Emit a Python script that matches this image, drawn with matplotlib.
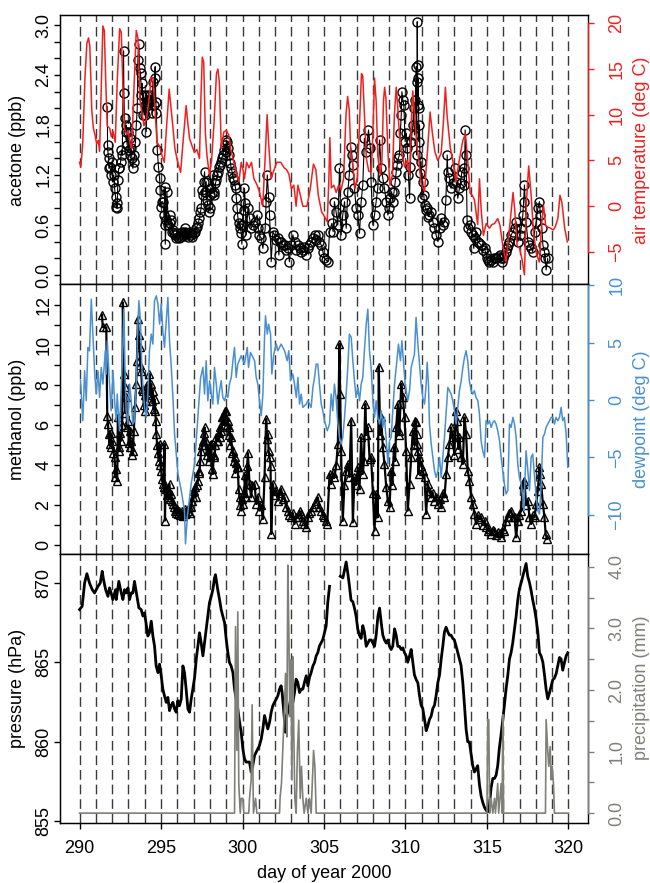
import numpy as np
import matplotlib
matplotlib.use("Agg")
import matplotlib.pyplot as plt
from matplotlib.ticker import FixedLocator, FormatStrFormatter

plt.rcParams["font.family"] = ["Liberation Sans", "DejaVu Sans"]
plt.rcParams["font.size"] = 13

# ---------------- data ----------------
# air temperature (deg C)
temp_day = [290.00, 290.08, 290.20, 290.33, 290.45, 290.55, 290.63, 290.75, 290.85, 290.95,
            291.05, 291.15, 291.23, 291.32, 291.43, 291.52, 291.60, 291.70, 291.85, 291.95,
            292.05, 292.19, 292.32, 292.46, 292.56, 292.65, 292.75, 292.90, 293.00, 293.10,
            293.20, 293.32, 293.48, 293.58, 293.70, 293.85, 293.95, 294.10, 294.25, 294.40,
            294.50, 294.60, 294.75, 294.90, 295.05, 295.20, 295.35, 295.50, 295.60, 295.72,
            295.85, 296.00, 296.20, 296.35, 296.54, 296.65, 296.75, 296.90, 297.05, 297.20,
            297.36, 297.45, 297.53, 297.62, 297.72, 297.82, 297.97, 298.10, 298.25, 298.40,
            298.49, 298.58, 298.70, 298.85, 299.00, 299.15, 299.30, 299.45, 299.60, 299.78,
            299.92, 300.05, 300.12, 300.25, 300.40, 300.55, 300.70, 300.90, 301.05, 301.24,
            301.38, 301.51, 301.60, 301.75, 301.90, 302.10, 302.35, 302.55, 302.70, 302.85,
            303.00, 303.15, 303.29, 303.40, 303.55, 303.70, 303.95, 304.15, 304.35, 304.50,
            304.65, 304.85, 305.05, 305.20, 305.30, 305.36, 305.45, 305.60, 305.75, 305.90,
            306.05, 306.20, 306.35, 306.45, 306.55, 306.65, 306.75, 306.90, 307.05, 307.20,
            307.30, 307.38, 307.48, 307.60, 307.75, 307.90, 308.00, 308.10, 308.20, 308.30,
            308.45, 308.55, 308.65, 308.72, 308.80, 308.92, 309.05, 309.20, 309.32, 309.43,
            309.52, 309.62, 309.75, 309.94, 310.10, 310.25, 310.35, 310.45, 310.55, 310.70,
            310.82, 310.96, 311.17, 311.35, 311.51, 311.65, 311.80, 311.98, 312.19, 312.32,
            312.45, 312.55, 312.74, 312.90, 313.10, 313.30, 313.52, 313.68, 313.82, 313.97,
            314.10, 314.23, 314.43, 314.54, 314.65, 314.78, 314.95, 315.15, 315.30, 315.46,
            315.66, 315.80, 315.97, 316.17, 316.40, 316.60, 316.70, 316.85, 317.00, 317.14,
            317.30, 317.42, 317.56, 317.70, 317.87, 318.07, 318.21, 318.37, 318.47, 318.60,
            318.75, 318.90, 319.07, 319.20, 319.35, 319.48, 319.60, 319.77, 319.93]
temp_val = [4.8, 4.3, 7.0, 14.0, 17.8, 18.4, 17.5, 10.5, 8.5, 7.8,
            6.8, 7.2, 6.0, 12.0, 19.7, 19.2, 14.0, 8.8, 8.5, 7.6,
            8.2, 7.0, 14.0, 19.4, 19.0, 13.6, 8.5, 7.8, 8.2, 6.8,
            6.3, 12.0, 19.2, 18.4, 11.7, 10.0, 8.8, 9.5, 11.5, 14.1,
            14.0, 11.5, 7.0, 6.6, 5.6, 4.8, 9.0, 12.8, 11.0, 8.8,
            6.3, 5.0, 3.7, 7.0, 11.0, 9.0, 7.4, 6.6, 5.9, 6.2,
            5.2, 12.0, 16.3, 15.7, 8.0, 5.5, 3.4, 5.0, 9.0, 14.5,
            15.0, 13.5, 6.3, 8.1, 8.3, 7.8, 6.0, 5.0, 3.7, 2.7,
            4.8, 3.8, 3.0, 4.8, 4.2, 4.8, 3.0, 2.3, 1.5, 0.0,
            5.0, 10.0, 7.0, 3.0, 3.8, 4.8, 4.8, 4.2, 4.0, 3.5,
            1.9, 2.3, 0.0, 2.3, 1.2, 0.0, 0.0, 1.8, 4.6, 4.0,
            1.2, -0.6, -1.2, -1.7, 3.0, 7.5, 2.0, 2.3, 1.5, 2.3,
            1.8, 3.0, 10.0, 12.0, 10.5, 5.6, 4.8, 1.9, 3.2, 10.0,
            14.5, 14.2, 10.0, 5.2, 3.8, 3.8, 8.0, 14.0, 11.5, 5.5,
            3.4, 4.8, 11.5, 13.0, 11.8, 6.0, 2.3, 3.4, 10.0, 13.0,
            11.0, 8.0, 6.0, 4.3, 5.0, 3.5, 9.0, 12.6, 10.0, 6.5,
            5.0, 2.5, 1.6, 6.0, 10.3, 8.0, 6.0, 5.0, 5.8, 9.0,
            13.0, 10.0, 6.5, 5.0, 2.7, 5.0, 7.2, 7.9, 5.0, 1.4,
            1.2, 0.7, -2.0, 3.0, -0.5, -3.2, -1.9, -2.4, -2.0, -1.9,
            -1.35, -2.1, -4.3, -6.1, -2.1, 1.5, -0.3, -4.3, -4.6, -5.7,
            -7.5, 0.4, 4.4, 1.5, -3.2, -5.4, -6.1, -1.7, 0.1, -2.1,
            -2.3, -2.4, -2.6, -2.2, -1.35, 1.2, 0.4, -2.4, -3.9]

# acetone (ppb)
acet_day = [291.70, 291.72, 291.74, 291.78, 291.80, 291.87, 291.94, 292.00, 292.05, 292.10,
            292.15, 292.21, 292.25, 292.28, 292.31, 292.35, 292.40, 292.45, 292.52, 292.56,
            292.62, 292.70, 292.72, 292.76, 292.82, 292.86, 292.92, 292.97, 293.02, 293.07,
            293.12, 293.17, 293.21, 293.27, 293.32, 293.37, 293.43, 293.48, 293.54, 293.58,
            293.64, 293.68, 293.74, 293.80, 293.85, 293.89, 293.94, 293.99, 294.04, 294.09,
            294.14, 294.19, 294.24, 294.29, 294.35, 294.40, 294.45, 294.50, 294.55, 294.60,
            294.64, 294.68, 294.71, 294.77, 294.84, 294.91, 294.94, 294.97, 295.04, 295.11,
            295.18, 295.22, 295.24, 295.26, 295.32, 295.36, 295.45, 295.52, 295.58, 295.63,
            295.68, 295.73, 295.78, 295.83, 295.90, 295.96, 296.02, 296.08, 296.14, 296.20,
            296.26, 296.32, 296.38, 296.44, 296.50, 296.56, 296.62, 296.68, 296.75, 296.81,
            296.87, 296.93, 297.00, 297.06, 297.13, 297.20, 297.28, 297.36, 297.42, 297.46,
            297.52, 297.57, 297.62, 297.67, 297.72, 297.77, 297.82, 297.87, 297.92, 297.98,
            298.03, 298.08, 298.13, 298.18, 298.23, 298.28, 298.34, 298.39, 298.44, 298.49,
            298.55, 298.60, 298.65, 298.72, 298.79, 298.85, 298.90, 298.96, 299.01, 299.06,
            299.12, 299.20, 299.26, 299.31, 299.38, 299.42, 299.47, 299.52, 299.57, 299.62,
            299.66, 299.71, 299.76, 299.82, 299.88, 299.92, 299.96, 300.02, 300.07, 300.12,
            300.17, 300.23, 300.33, 300.43, 300.53, 300.64, 300.74, 300.90, 300.97, 301.04,
            301.15, 301.25, 301.39, 301.45, 301.52, 301.60, 301.66, 301.76, 301.86, 301.96,
            302.07, 302.17, 302.23, 302.30, 302.37, 302.47, 302.58, 302.68, 302.78, 302.88,
            302.98, 303.09, 303.20, 303.30, 303.40, 303.50, 303.60, 303.70, 303.80, 303.91,
            304.01, 304.11, 304.21, 304.32, 304.42, 304.52, 304.62, 304.72, 304.83, 304.93,
            305.03, 305.13, 305.24, 305.34, 305.48, 305.56, 305.64, 305.74, 305.85, 305.95,
            306.05, 306.15, 306.26, 306.36, 306.46, 306.55, 306.63, 306.71, 306.77, 306.87,
            306.97, 307.08, 307.18, 307.28, 307.38, 307.48, 307.59, 307.73, 307.85, 307.89,
            308.00, 308.10, 308.20, 308.30, 308.41, 308.51, 308.61, 308.71, 308.82, 308.92,
            309.00, 309.08, 309.15, 309.22, 309.30, 309.37, 309.43, 309.49, 309.56, 309.63,
            309.68, 309.74, 309.78, 309.84, 309.90, 309.98, 310.05, 310.11, 310.18, 310.25,
            310.30, 310.35, 310.45, 310.50, 310.55, 310.60, 310.65, 310.69, 310.71, 310.72,
            310.74, 310.76, 310.78, 310.80, 310.83, 310.86, 310.90, 310.96, 311.00, 311.06,
            311.12, 311.17, 311.25, 311.33, 311.40, 311.47, 311.58, 311.68, 311.78, 311.88,
            311.99, 312.09, 312.19, 312.29, 312.39, 312.48, 312.56, 312.60, 312.70, 312.80,
            312.90, 313.01, 313.11, 313.21, 313.31, 313.38, 313.46, 313.58, 313.62, 313.66,
            313.72, 313.78, 313.86, 313.94, 314.03, 314.13, 314.19, 314.26, 314.33, 314.44,
            314.54, 314.64, 314.75, 314.85, 314.93, 315.01, 315.08, 315.15, 315.25, 315.36,
            315.46, 315.56, 315.66, 315.77, 315.84, 315.91, 316.00, 316.07, 316.15, 316.24,
            316.31, 316.38, 316.48, 316.59, 316.69, 316.79, 316.89, 317.00, 317.10, 317.20,
            317.25, 317.30, 317.40, 317.51, 317.61, 317.71, 317.81, 317.92, 318.02, 318.12,
            318.22, 318.28, 318.37, 318.43, 318.53, 318.58, 318.63, 318.73]
acet_val = [2.02, 1.56, 1.48, 1.40, 1.28, 1.30, 1.20, 1.36, 1.12, 1.20,
            1.04, 0.94, 0.82, 0.86, 0.80, 1.14, 1.28, 1.28, 1.36, 1.50,
            1.44, 2.69, 2.18, 1.88, 1.72, 1.80, 1.56, 1.72, 1.50, 1.64,
            1.44, 1.52, 1.40, 1.28, 1.36, 1.44, 1.60, 1.80, 2.00, 2.58,
            2.77, 2.48, 2.42, 2.16, 2.30, 1.92, 2.16, 1.92, 2.04, 1.72,
            2.16, 2.04, 2.10, 2.08, 2.16, 2.10, 1.94, 2.32, 2.04, 2.36,
            2.50, 2.08, 1.94, 1.50, 1.30, 1.16, 1.02, 0.82, 0.88, 0.88,
            0.72, 0.60, 1.06, 0.37, 0.66, 1.00, 0.60, 0.72, 0.62, 0.66,
            0.52, 0.54, 0.50, 0.48, 0.45, 0.50, 0.46, 0.44, 0.48, 0.46,
            0.52, 0.48, 0.50, 0.56, 0.52, 0.48, 0.50, 0.46, 0.52, 0.48,
            0.50, 0.46, 0.50, 0.52, 0.56, 0.58, 0.62, 0.68, 0.76, 0.80,
            1.02, 0.96, 1.12, 1.24, 1.00, 1.12, 0.90, 0.84, 0.76, 0.80,
            0.96, 1.04, 0.98, 1.20, 1.00, 0.96, 1.10, 1.14, 1.20, 1.24,
            1.30, 1.32, 1.36, 1.40, 1.44, 1.50, 1.56, 1.48, 1.62, 1.60,
            1.52, 1.44, 1.34, 1.28, 1.22, 1.16, 1.14, 1.08, 1.05, 0.92,
            0.80, 0.70, 0.62, 0.56, 0.60, 0.50, 0.37, 0.60, 0.78, 1.04,
            0.86, 0.48, 0.80, 0.68, 0.56, 0.60, 0.64, 0.72, 0.56, 0.48,
            0.44, 0.32, 0.56, 0.88, 1.20, 0.94, 0.72, 0.16, 0.52, 0.48,
            0.42, 0.44, 0.24, 0.40, 0.40, 0.36, 0.36, 0.30, 0.32, 0.16,
            0.36, 0.48, 0.40, 0.30, 0.36, 0.32, 0.28, 0.30, 0.34, 0.24,
            0.32, 0.36, 0.40, 0.44, 0.48, 0.42, 0.48, 0.40, 0.36, 0.28,
            0.20, 0.18, 0.16, 0.52, 0.62, 0.52, 0.88, 0.76, 0.60, 1.28,
            0.48, 0.72, 0.88, 0.56, 1.00, 1.20, 1.54, 1.44, 1.32, 1.04,
            0.80, 0.72, 0.50, 0.88, 1.08, 1.64, 1.48, 1.74, 1.52, 1.12,
            0.60, 0.72, 0.88, 1.04, 1.62, 1.28, 1.16, 1.04, 0.88, 0.72,
            0.80, 0.92, 1.00, 0.88, 1.00, 1.12, 1.24, 1.32, 1.40, 1.44,
            1.70, 1.92, 2.20, 2.10, 2.04, 1.60, 1.70, 1.52, 1.20, 0.92,
            1.30, 1.60, 1.80, 2.00, 1.68, 2.10, 2.50, 1.44, 2.32, 3.04,
            2.52, 2.04, 2.36, 2.00, 1.60, 1.80, 1.22, 1.36, 0.92, 1.12,
            0.96, 0.84, 0.78, 0.80, 0.70, 0.72, 0.76, 0.64, 0.56, 0.48,
            0.40, 0.56, 0.68, 0.60, 0.64, 0.90, 1.44, 1.24, 1.16, 1.04,
            1.10, 1.28, 1.12, 0.92, 1.04, 1.10, 1.24, 1.28, 1.08, 1.74,
            1.44, 0.66, 0.56, 0.60, 0.52, 0.48, 0.32, 0.44, 0.52, 0.40,
            0.38, 0.36, 0.30, 0.32, 0.26, 0.20, 0.18, 0.16, 0.18, 0.16,
            0.20, 0.20, 0.22, 0.24, 0.20, 0.16, 0.20, 0.24, 0.28, 0.32,
            0.36, 0.40, 0.48, 0.52, 0.56, 0.64, 0.40, 0.48, 0.56, 0.72,
            0.88, 1.08, 0.64, 0.40, 0.36, 0.32, 0.28, 0.52, 0.64, 0.80,
            0.88, 0.72, 0.56, 0.36, 0.28, 0.20, 0.06, 0.20]

# methanol (ppb)
meth_day = [291.38, 291.42, 291.64, 291.70, 291.74, 291.78, 291.84, 291.90, 291.95, 292.02,
            292.08, 292.15, 292.20, 292.25, 292.31, 292.35, 292.40, 292.45, 292.50, 292.56,
            292.62, 292.66, 292.72, 292.76, 292.80, 292.86, 292.92, 292.97, 293.02, 293.07,
            293.12, 293.17, 293.22, 293.27, 293.33, 293.40, 293.48, 293.52, 293.58, 293.63,
            293.68, 293.73, 293.78, 293.84, 293.89, 293.94, 293.99, 294.04, 294.09, 294.15,
            294.20, 294.29, 294.34, 294.40, 294.45, 294.50, 294.55, 294.60, 294.64, 294.68,
            294.71, 294.76, 294.81, 294.86, 294.91, 294.96, 295.01, 295.06, 295.11, 295.16,
            295.21, 295.24, 295.28, 295.32, 295.37, 295.42, 295.47, 295.52, 295.57, 295.63,
            295.68, 295.73, 295.78, 295.83, 295.90, 295.95, 296.04, 296.10, 296.15, 296.24,
            296.30, 296.35, 296.44, 296.50, 296.55, 296.65, 296.70, 296.75, 296.85, 296.90,
            296.95, 297.00, 297.06, 297.12, 297.18, 297.26, 297.31, 297.36, 297.41, 297.46,
            297.52, 297.57, 297.62, 297.67, 297.72, 297.77, 297.82, 297.87, 297.92, 297.98,
            298.03, 298.08, 298.13, 298.18, 298.23, 298.28, 298.34, 298.39, 298.44, 298.49,
            298.55, 298.60, 298.64, 298.69, 298.74, 298.79, 298.85, 298.90, 298.95, 299.00,
            299.05, 299.10, 299.15, 299.20, 299.25, 299.31, 299.36, 299.41, 299.46, 299.51,
            299.56, 299.62, 299.66, 299.71, 299.76, 299.82, 299.87, 299.92, 299.97, 300.02,
            300.10, 300.15, 300.23, 300.29, 300.33, 300.43, 300.53, 300.60, 300.74, 300.84,
            300.95, 301.04, 301.15, 301.25, 301.35, 301.45, 301.52, 301.56, 301.60, 301.66,
            301.72, 301.76, 301.86, 301.96, 302.07, 302.17, 302.27, 302.37, 302.47, 302.58,
            302.68, 302.78, 302.88, 302.99, 303.09, 303.19, 303.30, 303.40, 303.50, 303.60,
            303.70, 303.80, 303.91, 304.01, 304.11, 304.21, 304.32, 304.42, 304.52, 304.62,
            304.72, 304.83, 304.93, 305.03, 305.12, 305.20, 305.34, 305.44, 305.54, 305.64,
            305.75, 305.85, 305.95, 305.99, 306.05, 306.15, 306.25, 306.36, 306.46, 306.56,
            306.67, 306.77, 306.87, 306.97, 307.08, 307.18, 307.28, 307.38, 307.45, 307.53,
            307.60, 307.69, 307.80, 307.89, 308.00, 308.10, 308.20, 308.30, 308.36, 308.45,
            308.51, 308.61, 308.71, 308.82, 308.92, 309.02, 309.12, 309.20, 309.29, 309.36,
            309.43, 309.53, 309.58, 309.63, 309.74, 309.84, 309.94, 310.04, 310.14, 310.25,
            310.35, 310.45, 310.55, 310.60, 310.65, 310.68, 310.72, 310.76, 310.80, 310.86,
            310.96, 311.06, 311.17, 311.27, 311.37, 311.47, 311.58, 311.68, 311.78, 311.88,
            311.99, 312.09, 312.19, 312.29, 312.39, 312.50, 312.60, 312.70, 312.80, 312.90,
            313.00, 313.05, 313.11, 313.17, 313.24, 313.31, 313.42, 313.52, 313.62, 313.72,
            313.82, 313.92, 314.03, 314.13, 314.23, 314.33, 314.43, 314.54, 314.64, 314.75,
            314.85, 314.95, 315.05, 315.15, 315.26, 315.36, 315.46, 315.56, 315.66, 315.77,
            315.87, 315.97, 316.07, 316.17, 316.28, 316.38, 316.48, 316.59, 316.69, 316.79,
            316.89, 316.99, 317.10, 317.20, 317.30, 317.40, 317.51, 317.61, 317.71, 317.81,
            317.92, 318.02, 318.12, 318.22, 318.28, 318.33, 318.43, 318.53, 318.60, 318.69]
meth_val = [11.5, 10.9, 10.88, 6.47, 6.05, 5.55, 5.05, 5.6, 4.9, 5.2,
            4.6, 4.38, 3.38, 3.8, 3.22, 6.38, 4.9, 4.72, 5.6, 5.22,
            6.0, 12.13, 8.55, 7.88, 6.6, 7.38, 5.9, 6.22, 5.1, 5.72,
            4.9, 5.22, 4.5, 4.72, 5.72, 6.9, 8.05, 9.2, 11.3, 10.5,
            9.88, 9.0, 8.72, 7.8, 7.72, 7.0, 6.72, 7.5, 7.22, 8.0,
            7.5, 8.55, 7.6, 8.05, 7.2, 7.72, 6.8, 7.3, 6.72, 6.2,
            5.55, 5.0, 4.6, 4.2, 5.05, 4.0, 3.72, 3.3, 3.05, 2.9,
            5.05, 1.22, 2.8, 2.88, 2.5, 2.38, 2.7, 3.05, 2.3, 2.55,
            2.2, 2.05, 1.9, 1.72, 1.6, 1.8, 1.55, 1.7, 1.5, 1.55,
            1.7, 1.45, 1.55, 1.8, 1.6, 1.72, 1.9, 1.6, 1.88, 2.2,
            2.38, 2.7, 2.88, 2.4, 3.0, 3.22, 3.6, 3.72, 4.2, 4.72,
            5.0, 5.22, 5.6, 5.88, 5.0, 5.22, 4.5, 4.72, 4.2, 4.38,
            5.0, 5.05, 3.8, 3.55, 4.5, 4.38, 5.0, 5.4, 5.2, 5.22,
            5.6, 5.9, 5.4, 5.72, 6.4, 6.38, 6.0, 6.72, 6.4, 6.7,
            6.0, 6.22, 5.5, 5.88, 5.0, 5.38, 4.6, 4.72, 4.2, 4.38,
            3.6, 4.1, 3.9, 3.88, 2.8, 2.38, 2.0, 1.72, 2.3, 2.05,
            2.6, 3.5, 2.38, 3.97, 4.6, 3.05, 2.38, 3.0, 3.05, 2.05,
            2.4, 1.72, 2.0, 1.3, 3.38, 6.3, 5.3, 5.55, 4.72, 4.38,
            3.97, 0.55, 3.05, 2.5, 2.72, 2.22, 2.6, 2.8, 2.3, 2.38,
            1.9, 1.72, 1.5, 1.38, 1.6, 1.05, 1.4, 1.38, 1.7, 1.55,
            1.2, 1.05, 0.88, 1.38, 1.6, 1.72, 1.9, 2.05, 2.2, 2.38,
            1.9, 1.72, 1.5, 1.38, 1.2, 1.05, 3.55, 3.05, 3.6, 3.38,
            4.0, 5.05, 10.05, 7.55, 4.72, 1.2, 3.0, 3.72, 4.05, 3.4,
            6.22, 1.13, 3.38, 3.0, 3.88, 2.8, 5.38, 3.55, 4.2, 7.05,
            5.5, 5.88, 4.3, 4.38, 2.6, 0.72, 2.55, 1.38, 8.92, 5.5,
            6.38, 4.88, 4.05, 2.88, 2.2, 1.88, 3.72, 3.0, 4.88, 4.2,
            5.88, 7.05, 5.5, 5.72, 8.05, 7.38, 6.38, 4.72, 1.72, 3.05,
            4.38, 5.72, 5.0, 6.22, 6.13, 5.55, 5.05, 4.72, 3.55, 4.38,
            3.97, 3.72, 3.38, 1.55, 3.05, 2.72, 2.38, 2.6, 2.22, 2.4,
            2.05, 2.3, 1.88, 2.6, 2.38, 3.55, 4.38, 5.05, 5.88, 5.38,
            4.5, 5.72, 6.72, 6.22, 4.8, 5.38, 4.38, 4.05, 6.38, 5.55,
            3.72, 3.22, 2.38, 2.05, 1.55, 1.05, 1.5, 1.3, 1.38, 1.0,
            1.22, 0.9, 0.72, 0.8, 0.55, 0.75, 0.72, 0.5, 0.63, 0.6,
            0.38, 0.8, 0.72, 1.2, 1.38, 1.6, 1.72, 1.4, 1.38, 0.38,
            1.22, 1.5, 1.72, 3.05, 3.22, 2.0, 2.22, 1.38, 1.05, 1.5,
            1.38, 2.05, 2.72, 3.88, 3.55, 3.05, 2.05, 1.38, 0.55, 0.30]

# dewpoint (deg C)
dew_day = [290.06, 290.20, 290.31, 290.41, 290.51, 290.61, 290.72, 290.82, 290.92, 291.02,
           291.13, 291.23, 291.33, 291.43, 291.58, 291.64, 291.70, 291.84, 291.94, 292.05,
           292.15, 292.25, 292.31, 292.45, 292.56, 292.66, 292.72, 292.80, 292.86, 292.97,
           293.07, 293.17, 293.27, 293.37, 293.48, 293.58, 293.64, 293.74, 293.82, 293.89,
           293.99, 294.09, 294.19, 294.29, 294.40, 294.50, 294.60, 294.71, 294.81, 294.91,
           295.01, 295.11, 295.21, 295.32, 295.42, 295.52, 295.63, 295.73, 295.83, 296.04,
           296.24, 296.44, 296.50, 296.61, 296.75, 296.85, 297.06, 297.26, 297.43, 297.57,
           297.67, 297.77, 297.87, 297.98, 298.08, 298.18, 298.28, 298.39, 298.49, 298.59,
           298.69, 298.79, 298.90, 299.00, 299.10, 299.20, 299.31, 299.41, 299.51, 299.61,
           299.71, 299.92, 300.12, 300.29, 300.37, 300.49, 300.64, 300.74, 300.84, 300.94,
           301.04, 301.15, 301.25, 301.35, 301.41, 301.52, 301.60, 301.72, 301.80, 301.92,
           302.07, 302.17, 302.37, 302.58, 302.74, 302.84, 302.95, 303.09, 303.19, 303.30,
           303.40, 303.50, 303.60, 303.70, 303.91, 304.01, 304.21, 304.32, 304.42, 304.52,
           304.62, 304.72, 304.83, 304.93, 305.03, 305.20, 305.34, 305.44, 305.54, 305.64,
           305.74, 305.85, 305.95, 306.05, 306.15, 306.26, 306.36, 306.46, 306.56, 306.67,
           306.77, 306.87, 306.97, 307.08, 307.18, 307.28, 307.38, 307.48, 307.59, 307.69,
           307.79, 307.89, 308.00, 308.10, 308.20, 308.30, 308.41, 308.51, 308.61, 308.71,
           308.82, 308.92, 309.02, 309.12, 309.22, 309.33, 309.43, 309.57, 309.69, 309.78,
           309.90, 309.98, 310.14, 310.25, 310.35, 310.45, 310.55, 310.65, 310.76, 310.86,
           310.96, 311.06, 311.17, 311.27, 311.33, 311.41, 311.47, 311.58, 311.68, 311.78,
           311.88, 311.99, 312.09, 312.19, 312.29, 312.39, 312.50, 312.60, 312.70, 312.80,
           312.90, 313.01, 313.11, 313.21, 313.31, 313.42, 313.52, 313.62, 313.72, 313.82,
           313.92, 314.03, 314.13, 314.23, 314.33, 314.44, 314.54, 314.64, 314.74, 314.85,
           314.95, 315.05, 315.15, 315.26, 315.36, 315.46, 315.56, 315.66, 315.77, 315.87,
           315.97, 316.07, 316.17, 316.28, 316.38, 316.48, 316.59, 316.69, 316.79, 316.89,
           316.99, 317.10, 317.20, 317.26, 317.40, 317.51, 317.61, 317.71, 317.81, 317.92,
           318.02, 318.12, 318.22, 318.33, 318.43, 318.53, 318.63, 318.73, 318.84, 318.94,
           319.04, 319.14, 319.24, 319.35, 319.45, 319.55, 319.65, 319.75, 319.86, 319.96]
dew_val = [1.68, -1.80, 2.55, -0.06, 4.58, 4.29, 8.78, 5.74, 2.55, 0.52,
           2.55, 0.23, 2.84, 1.39, 4.29, 2.26, 5.16, 1.39, -0.93, 2.55,
           -0.06, -1.80, 0.52, -2.67, 1.10, 4.87, 7.91, 1.68, -0.93, -2.09,
           1.39, -0.06, -2.09, -1.80, 1.39, 6.61, 8.64, 6.90, 2.84, 1.10,
           -0.64, -1.51, 0.52, 4.29, 5.74, 4.87, 8.64, 9.07, 8.35, 6.61,
           8.35, 6.03, 4.58, 6.90, 8.93, 5.16, 2.84, 0.23, -2.96, -6.44,
           -7.88, -9.62, -12.52, -10.20, -8.46, -7.30, -5.56, -1.51, 1.97, 2.84,
           0.52, 3.42, -0.06, 1.68, 0.52, -0.35, 2.84, 1.39, -0.35, 0.81,
           1.68, 0.23, -0.06, 0.52, 0.23, 1.39, 1.97, 3.42, 4.58, 1.97,
           3.13, 3.86, 3.13, 4.58, 2.84, 4.14, 3.71, 3.42, 1.97, 1.39,
           -0.06, -1.36, 0.52, 5.45, 7.33, 5.74, 6.61, 5.74, 2.26, 4.00,
           4.87, 4.29, 4.87, 4.29, 3.42, 4.29, 1.68, 2.26, 1.39, 0.23,
           1.97, -0.35, 0.52, -0.64, -0.35, -0.06, -0.64, 1.10, 1.97, 3.13,
           3.13, 1.39, -0.35, -0.93, -1.80, -2.67, -2.09, 0.52, -0.93, 1.39,
           0.23, -2.09, -3.25, -3.83, -3.25, -1.51, 0.52, 2.84, 5.74, 5.45,
           3.42, 1.68, 0.23, 1.10, -0.06, 1.39, 1.97, 4.29, 6.61, 7.91,
           4.29, 2.84, -0.06, -1.51, -0.06, -1.51, -2.09, -0.93, -2.38, -1.51,
           -3.54, -5.56, -3.54, -3.25, -0.93, 1.39, 2.84, 4.87, 3.42, 5.16,
           2.84, 1.39, -0.06, 0.81, 2.84, 3.42, 4.00, 7.20, 4.87, 3.13,
           1.39, 0.23, -0.35, 1.39, 3.28, 1.39, -2.09, -3.83, -4.99, -6.15,
           -6.73, -6.15, -4.99, -6.73, -4.99, -3.25, -0.93, 1.10, 0.81, 0.52,
           -0.06, -0.93, -2.09, -0.64, 0.81, 1.68, 2.84, 3.71, 4.29, 3.42,
           1.68, 0.81, 0.52, 0.81, 0.23, -0.06, -1.22, -3.54, -4.41, -4.99,
           -1.80, -2.09, -1.80, -2.38, -1.95, -1.80, -2.09, -2.67, -3.54, -4.99,
           -6.15, -7.30, -8.17, -7.88, -2.09, -2.38, -1.51, -2.09, -3.25, -5.56,
           -6.73, -7.30, -8.46, -9.62, -4.41, -6.15, -7.88, -4.99, -4.70, -6.73,
           -8.46, -9.62, -9.91, -7.30, -3.25, -2.96, -2.38, -2.09, -1.80, -1.51,
           -1.51, -2.09, -1.51, -1.80, -1.51, -0.64, -1.80, -1.51, -2.96, -5.86]

# pressure (hPa); nan marks the gap in the record
pres_day = [290.00, 290.16, 290.31, 290.45, 290.61, 290.78, 290.92, 291.13, 291.27, 291.39,
            291.47, 291.60, 291.74, 291.84, 291.94, 292.04, 292.21, 292.25, 292.41, 292.56,
            292.66, 292.76, 292.86, 292.97, 293.07, 293.17, 293.27, 293.37, 293.52, 293.64,
            293.78, 293.89, 293.99, 294.09, 294.19, 294.29, 294.40, 294.50, 294.60, 294.70,
            294.81, 294.91, 295.01, 295.11, 295.21, 295.32, 295.42, 295.52, 295.62, 295.73,
            295.83, 295.93, 296.03, 296.13, 296.24, 296.34, 296.44, 296.54, 296.65, 296.75,
            296.85, 296.95, 297.06, 297.16, 297.26, 297.36, 297.46, 297.57, 297.67, 297.77,
            297.87, 297.97, 298.08, 298.18, 298.28, 298.34, 298.48, 298.59, 298.69, 298.79,
            298.90, 299.00, 299.10, 299.20, 299.30, 299.41, 299.51, 299.61, 299.71, 299.82,
            299.92, 300.02, 300.12, 300.22, 300.33, 300.43, 300.53, 300.63, 300.74, 300.84,
            300.94, 301.04, 301.15, 301.25, 301.35, 301.45, 301.55, 301.66, 301.76, 301.86,
            301.96, 302.07, 302.17, 302.27, 302.37, 302.43, 302.52, 302.64, 302.72, 302.88,
            302.99, 303.09, 303.19, 303.29, 303.39, 303.50, 303.60, 303.70, 303.80, 303.91,
            304.01, 304.11, 304.21, 304.32, 304.42, 304.52, 304.62, 304.72, 304.83, 304.93,
            305.03, 305.13, 305.23, 305.34, 305.60,
            306.00, 306.16, 306.26, 306.36, 306.46, 306.56, 306.66, 306.77, 306.87, 306.97,
            307.07, 307.17, 307.28, 307.38, 307.48, 307.59, 307.69, 307.79, 307.90, 308.00,
            308.10, 308.20, 308.31, 308.41, 308.51, 308.61, 308.71, 308.82, 308.92, 309.02,
            309.12, 309.22, 309.33, 309.43, 309.53, 309.63, 309.74, 309.84, 309.94, 310.04,
            310.14, 310.25, 310.35, 310.45, 310.55, 310.66, 310.76, 310.86, 310.96, 311.06,
            311.17, 311.27, 311.37, 311.47, 311.57, 311.68, 311.78, 311.88, 311.98, 312.09,
            312.19, 312.29, 312.39, 312.49, 312.60, 312.70, 312.80, 312.90, 313.00, 313.11,
            313.21, 313.31, 313.41, 313.52, 313.62, 313.72, 313.82, 313.92, 314.03, 314.13,
            314.23, 314.33, 314.43, 314.54, 314.64, 314.74, 314.84, 314.95, 315.05, 315.15,
            315.25, 315.36, 315.46, 315.56, 315.66, 315.76, 315.86, 315.97, 316.07, 316.17,
            316.28, 316.38, 316.48, 316.58, 316.69, 316.79, 316.89, 316.99, 317.10, 317.20,
            317.30, 317.40, 317.50, 317.61, 317.71, 317.81, 317.91, 318.02, 318.12, 318.22,
            318.32, 318.43, 318.53, 318.63, 318.73, 318.84, 318.94, 319.04, 319.14, 319.25,
            319.35, 319.45, 319.55, 319.65, 319.76, 319.86, 319.96]
pres_val = [868.31, 868.52, 869.98, 870.56, 869.98, 869.56, 869.35, 869.77, 869.98, 870.71,
            870.19, 869.56, 869.14, 869.67, 869.35, 868.94, 869.56, 868.94, 870.08, 869.35,
            868.94, 869.56, 869.35, 869.67, 868.94, 869.35, 869.35, 870.08, 869.14, 868.42,
            868.31, 867.90, 868.10, 867.38, 866.65, 866.85, 867.58, 866.65, 866.02, 864.77,
            864.35, 864.88, 864.15, 863.31, 862.90, 862.48, 862.79, 861.96, 862.27, 862.48,
            862.06, 861.86, 862.58, 862.27, 862.69, 864.77, 864.35, 863.31, 862.06, 861.86,
            862.69, 863.31, 864.04, 865.19, 866.02, 866.85, 866.23, 865.40, 866.23, 867.06,
            867.90, 868.73, 869.14, 869.56, 870.29, 870.50, 869.56, 868.94, 868.31, 867.90,
            867.48, 866.44, 865.60, 864.98, 864.77, 864.35, 863.31, 862.69, 862.06, 861.23,
            860.60, 859.56, 858.94, 858.73, 858.73, 858.73, 858.10, 858.52, 859.15, 859.35,
            859.56, 859.77, 860.19, 860.81, 861.65, 861.23, 860.81, 861.23, 861.86, 862.27,
            862.48, 862.69, 862.90, 863.31, 863.52, 863.10, 862.06, 860.60, 861.65, 862.27,
            862.90, 862.48, 863.10, 863.94, 863.73, 863.10, 863.31, 863.31, 863.73, 864.15,
            863.52, 864.04, 864.35, 864.77, 864.98, 865.40, 865.60, 866.02, 866.23, 866.44,
            866.85, 867.27, 868.73, 869.77, np.nan,
            870.40, 870.30, 870.80, 871.30, 870.60, 869.80, 868.90, 868.80, 868.40, 867.90,
            867.10, 866.70, 866.50, 867.30, 866.90, 866.00, 866.20, 866.40, 866.40, 866.20,
            866.00, 866.70, 867.90, 868.40, 867.50, 866.70, 866.40, 866.20, 866.40, 866.00,
            865.80, 866.00, 867.10, 866.70, 866.00, 866.00, 865.80, 865.90, 865.60, 865.40,
            865.00, 865.40, 865.80, 865.00, 864.20, 863.90, 863.70, 862.90, 862.30, 862.10,
            861.40, 860.70, 861.00, 861.40, 861.60, 862.10, 862.30, 862.90, 863.70, 864.20,
            865.20, 866.00, 866.90, 867.20, 866.90, 866.70, 866.70, 866.50, 866.40, 866.00,
            865.60, 865.20, 864.80, 863.70, 862.30, 860.80, 860.00, 860.00, 859.20, 858.50,
            858.10, 858.30, 858.50, 857.30, 856.60, 856.20, 855.90, 855.70, 855.60, 856.00,
            857.10, 857.70, 857.70, 857.90, 858.50, 859.60, 860.40, 861.40, 862.30, 863.30,
            864.20, 865.20, 865.60, 866.20, 867.10, 867.90, 868.90, 869.60, 870.00, 870.40,
            870.80, 871.20, 870.40, 870.00, 869.50, 868.90, 868.40, 867.70, 866.90, 865.60,
            865.40, 865.00, 864.20, 863.30, 862.70, 863.10, 863.50, 863.90, 864.00, 864.30,
            864.80, 865.30, 865.20, 864.50, 865.00, 865.40, 865.60]

# precipitation (mm)
prec_day = [290.00, 299.51, 299.57, 299.65, 299.71, 299.77, 299.86, 299.92, 300.02, 300.08,
            300.38, 300.43, 300.53, 300.59, 300.67, 300.80, 300.88, 302.27, 302.31, 302.39,
            302.47, 302.56, 302.64, 302.72, 302.78, 302.84, 302.90, 302.97, 303.03, 303.09,
            303.15, 303.21, 303.29, 303.37, 303.45, 303.54, 303.62, 303.70, 303.78, 303.91,
            304.01, 304.11, 304.21, 304.36, 304.44, 304.52, 315.00, 315.05, 315.11, 315.17,
            315.25, 315.36, 315.46, 315.52, 315.66, 315.72, 315.87, 315.93, 315.97, 316.02,
            318.59, 318.63, 318.73, 318.79, 318.88, 318.94, 319.00, 319.08, 319.14, 320.00]
prec_val = [0.0, 0.0, 3.03, 1.02, 3.27, 0.48, 0.0, 0.24, 0.24, 0.0,
            0.0, 0.24, 0.54, 1.76, 0.0, 0.24, 0.0, 0.0, 0.27, 0.48,
            1.02, 1.62, 2.27, 1.24, 4.03, 3.03, 1.57, 2.49, 0.54, 2.54,
            1.24, 0.24, 0.0, 1.02, 1.51, 0.24, 0.76, 0.24, 0.0, 0.24,
            0.0, 0.24, 0.0, 1.02, 0.76, 0.0, 0.0, 1.52, 1.52, 0.0,
            0.24, 0.0, 0.24, 0.0, 0.48, 0.0, 0.48, 0.0, 1.6, 0.0,
            0.0, 1.52, 1.02, 0.76, 1.08, 0.54, 0.76, 0.48, 0.0, 0.0]

# ---------------- styling ----------------
RED = "#f02020"
BLUE = "#4a90d0"
GRAY = "#80807a"
DASH = "#3a3a3a"
W, H = 650.0, 883.0
FS = 13

fig = plt.figure(figsize=(W / 100, H / 100), dpi=100)


def make_panel(top, bottom):
    ax = fig.add_axes([60 / W, 1 - bottom / H, 528 / W, (bottom - top) / H])
    ax.set_xlim(288.8, 321.2)
    for d in range(290, 321):
        ax.axvline(d, color=DASH, lw=1.0, ls=(0, (7, 3.5)), zorder=0)
    for s in ax.spines.values():
        s.set_linewidth(1.0)
    ax.tick_params(axis="x", which="both", bottom=False, labelbottom=False)
    ax.tick_params(axis="y", which="both", direction="out", length=4.5, width=1.0,
                   pad=1, labelsize=FS, labelrotation=90)
    return ax


def make_twin(ax, color, lo, hi):
    tw = ax.twinx()
    tw.spines["right"].set_color(color)
    tw.spines["right"].set_linewidth(1.0)
    tw.spines["right"].set_bounds(lo, hi)
    tw.tick_params(axis="y", which="both", colors=color, direction="out", length=4.5,
                   width=1.0, pad=10, labelsize=FS, labelrotation=90)
    return tw


def center_labels(ax):
    for lab in ax.get_yticklabels():
        lab.set_va("center")


# ---- top: acetone + air temperature ----
ax1 = make_panel(15, 284)
ax1.plot(acet_day, acet_val, color="black", lw=0.8, marker="o", ms=6.5,
         mfc="none", mec="black", mew=1.0, zorder=2)
ax1.set_ylim(-0.108, 3.12)
ax1.yaxis.set_major_locator(FixedLocator(np.arange(0, 3.01, 0.6)))
ax1.yaxis.set_minor_locator(FixedLocator(np.arange(0, 3.01, 0.2)))
ax1.yaxis.set_major_formatter(FormatStrFormatter("%.1f"))
center_labels(ax1)

tw1 = make_twin(ax1, RED, -5, 20)
tw1.plot(temp_day, temp_val, color=RED, lw=1.1)
tw1.set_ylim(-8.5, 20.9)
tw1.set_yticks([-5, 0, 5, 10, 15, 20])
center_labels(tw1)

# ---- middle: methanol + dewpoint ----
ax2 = make_panel(284, 554)
ax2.plot(meth_day, meth_val, color="black", lw=1.6, marker="^", ms=6,
         mfc="none", mec="black", mew=1.0, zorder=2)
ax2.set_ylim(-0.45, 13.05)
ax2.yaxis.set_major_locator(FixedLocator(np.arange(0, 12.1, 2)))
ax2.yaxis.set_minor_locator(FixedLocator(np.arange(0, 12.1, 1)))
center_labels(ax2)

tw2 = make_twin(ax2, BLUE, -10, 10)
tw2.plot(dew_day, dew_val, color=BLUE, lw=1.1)
tw2.set_ylim(-13.4, 10.1)
tw2.set_yticks([-10, -5, 0, 5, 10])
center_labels(tw2)

# ---- bottom: pressure + precipitation ----
ax3 = make_panel(554, 823)
ax3.plot(pres_day, pres_val, color="black", lw=2.0, zorder=2)
ax3.set_ylim(854.9, 871.8)
ax3.set_yticks([855, 860, 865, 870])
center_labels(ax3)
ax3.set_xticks(range(290, 321, 5))
ax3.tick_params(axis="x", which="major", bottom=True, labelbottom=True, direction="out",
                length=4.5, width=1.0, pad=8, labelsize=FS)

tw3 = make_twin(ax3, GRAY, 0, 4)
tw3.plot(prec_day, prec_val, color=GRAY, lw=1.2)
tw3.set_ylim(-0.16, 4.21)
tw3.yaxis.set_major_locator(FixedLocator([0, 1, 2, 3, 4]))
tw3.yaxis.set_minor_locator(FixedLocator(np.arange(0, 4.01, 0.5)))
tw3.yaxis.set_major_formatter(FormatStrFormatter("%.1f"))
center_labels(tw3)


# ---- axis titles ----
def ylab(x, y, text, color="black"):
    fig.text(x / W, 1 - y / H, text, rotation=90, ha="center", va="center",
             fontsize=FS, color=color)


ylab(18, 150, "acetone (ppb)")
ylab(642, 150, "air temperature (deg C)", RED)
ylab(18, 419, "methanol (ppb)")
ylab(642, 419, "dewpoint (deg C)", BLUE)
ylab(18, 688, "pressure (hPa)")
ylab(642, 688, "precipitation (mm)", GRAY)
fig.text(324 / W, 1 - 874 / H, "day of year 2000", ha="center", va="center", fontsize=FS)

fig.savefig("out.png", dpi=100)
